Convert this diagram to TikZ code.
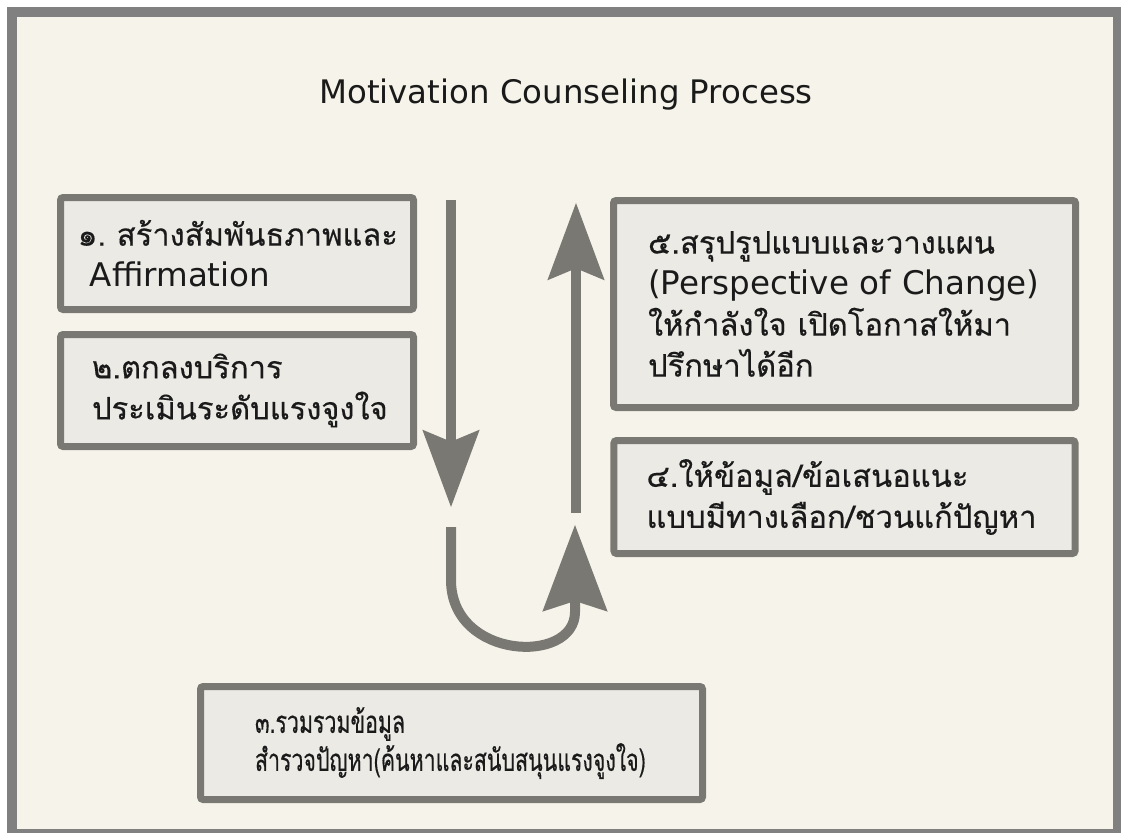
\documentclass[tikz,border=0pt]{standalone}
\usepackage{fontspec}
\setmainfont{DejaVu Sans}
\newfontfamily\thaifont[Script=Thai,Scale=0.95,FakeBold=0.4]{Loma}
\newfontfamily\thainarrow[Script=Thai,Scale=0.95,FakeBold=0.4,FakeStretch=0.69]{Loma}
\usetikzlibrary{arrows.meta,positioning}
\definecolor{Paper}{HTML}{F6F4EA}
\definecolor{Frame}{HTML}{808080}
\definecolor{BoxFill}{HTML}{EBEAE5}
\definecolor{BoxEdge}{HTML}{7A7873}
\definecolor{Ink}{HTML}{1A1A1A}
\newcommand{\stagefont}{\fontsize{24.4}{30.75}\selectfont}

\begin{document}
\begin{tikzpicture}[x=0.75pt,y=-0.75pt,
    stagebox/.style={draw=BoxEdge,fill=BoxFill,line width=5.25pt,
      rounded corners=2pt,align=left,text=Ink,inner ysep=0pt,font=\stagefont},
    flowarrow/.style={BoxEdge,line width=7.5pt,
      -{Stealth[length=58pt,width=43pt,inset=9pt,line width=0pt]}},
    turnarrow/.style={BoxEdge,line width=7.5pt,
      -{Stealth[length=65pt,width=49pt,inset=8pt,line width=0pt]}}]
  \useasboundingbox (0,0) rectangle (1121,832);
  \fill[white] (0,0) rectangle (1121,832);
  \path[fill=Paper,draw=Frame,line width=7.5pt] (12,12) rectangle (1118,834);

  \node[font=\fontsize{24.3}{28}\selectfont,text=Ink,anchor=base] (title)
    at (566,103) {Motivation Counseling Process};

  % left column
  \node[stagebox,minimum width=264.75pt,minimum height=84pt,
        text width=238.75pt,inner xsep=13pt] (s1) at (237,253.5)
    {{\thaifont ๑.~สร้างสัมพันธภาพและ}\\\hspace*{9pt}Affirmation};
  \node[stagebox,below=13.5pt of s1,minimum width=264.75pt,minimum height=84pt,
        text width=217.5pt,inner xsep=23.6pt] (s2)
    {\thaifont ๒.ตกลงบริการ\\ประเมินระดับแรงจูงใจ};

  % right column
  \node[stagebox,minimum width=346.5pt,minimum height=155.25pt,
        text width=294.7pt,inner xsep=25.9pt] (s5) at (844.5,304)
    {{\thaifont ๕.สรุปรูปแบบและวางแผน}\\(Perspective of Change)\\
     {\thaifont ให้กำลังใจ~เปิดโอกาสให้มา}\\{\thaifont ปรึกษาได้อีก}};
  \node[stagebox,below=19.5pt of s5,minimum width=345.75pt,minimum height=84.75pt,
        text width=297pt,inner xsep=24.4pt] (s4)
    {\thaifont ๔.ให้ข้อมูล/ข้อเสนอแนะ\\แบบมีทางเลือก/ชวนแก้ปัญหา};

  % bottom
  \node[stagebox,minimum width=376.5pt,minimum height=84.75pt,
        text width=294.7pt,inner xsep=40.9pt,
        font=\fontsize{24.4}{28.5}\selectfont] (s3) at (451.5,743)
    {\thainarrow ๓.รวมรวมข้อมูล\\สำรวจปัญหา(ค้นหาและสนับสนุนแรงจูงใจ)};

  % arrows
  \coordinate (downtop) at (451,200);
  \coordinate (downtip) at (451,507);
  \coordinate (uptail) at (576,513);
  \coordinate (uptip) at (576,203);
  \coordinate (turntail) at (451,527);
  \coordinate (turntip) at (575,525);
  \draw[flowarrow] (downtop) -- (downtip);
  \draw[flowarrow] (uptail) -- (uptip);
  \draw[turnarrow] (turntail) -- (451,580)
    .. controls (451,660) and (575,665) .. (575,612) -- (turntip);
\end{tikzpicture}
\end{document}
